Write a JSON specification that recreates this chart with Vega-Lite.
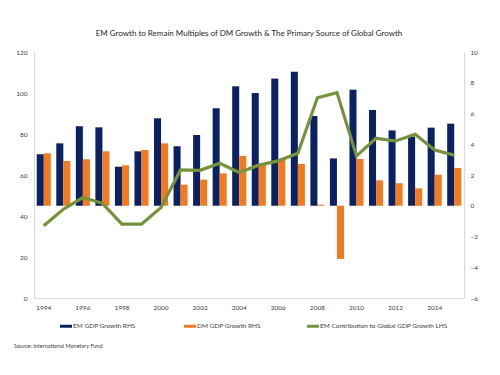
{
  "$schema": "https://vega.github.io/schema/vega-lite/v6.json",
  "width": 430,
  "height": 246,
  "autosize": {"type": "none"},
  "padding": {"left": 34, "top": 52, "right": 36, "bottom": 77},
  "background": "white",
  "title": {
    "text": "EM Growth to Remain Multiples of DM Growth & The Primary Source of Global Growth",
    "font": "Lato",
    "fontSize": 8,
    "fontWeight": "normal",
    "color": "#262626",
    "anchor": "middle",
    "frame": "group",
    "offset": 11
  },
  "datasets": {
    "bars": [
      {"year": "1994", "series": "EM GDP Growth  RHS", "value": 3.35},
      {"year": "1995", "series": "EM GDP Growth  RHS", "value": 4.06},
      {"year": "1996", "series": "EM GDP Growth  RHS", "value": 5.17},
      {"year": "1997", "series": "EM GDP Growth  RHS", "value": 5.1},
      {"year": "1998", "series": "EM GDP Growth  RHS", "value": 2.54},
      {"year": "1999", "series": "EM GDP Growth  RHS", "value": 3.54},
      {"year": "2000", "series": "EM GDP Growth  RHS", "value": 5.69},
      {"year": "2001", "series": "EM GDP Growth  RHS", "value": 3.87},
      {"year": "2002", "series": "EM GDP Growth  RHS", "value": 4.6},
      {"year": "2003", "series": "EM GDP Growth  RHS", "value": 6.34},
      {"year": "2004", "series": "EM GDP Growth  RHS", "value": 7.77},
      {"year": "2005", "series": "EM GDP Growth  RHS", "value": 7.33},
      {"year": "2006", "series": "EM GDP Growth  RHS", "value": 8.27},
      {"year": "2007", "series": "EM GDP Growth  RHS", "value": 8.72},
      {"year": "2008", "series": "EM GDP Growth  RHS", "value": 5.84},
      {"year": "2009", "series": "EM GDP Growth  RHS", "value": 3.08},
      {"year": "2010", "series": "EM GDP Growth  RHS", "value": 7.55},
      {"year": "2011", "series": "EM GDP Growth  RHS", "value": 6.23},
      {"year": "2012", "series": "EM GDP Growth  RHS", "value": 4.9},
      {"year": "2013", "series": "EM GDP Growth  RHS", "value": 4.5},
      {"year": "2014", "series": "EM GDP Growth  RHS", "value": 5.08},
      {"year": "2015", "series": "EM GDP Growth  RHS", "value": 5.34},
      {"year": "1994", "series": "DM GDP Growth RHS", "value": 3.41},
      {"year": "1995", "series": "DM GDP Growth RHS", "value": 2.91},
      {"year": "1996", "series": "DM GDP Growth RHS", "value": 3.02},
      {"year": "1997", "series": "DM GDP Growth RHS", "value": 3.54},
      {"year": "1998", "series": "DM GDP Growth RHS", "value": 2.63},
      {"year": "1999", "series": "DM GDP Growth RHS", "value": 3.63},
      {"year": "2000", "series": "DM GDP Growth RHS", "value": 4.06},
      {"year": "2001", "series": "DM GDP Growth RHS", "value": 1.37},
      {"year": "2002", "series": "DM GDP Growth RHS", "value": 1.7},
      {"year": "2003", "series": "DM GDP Growth RHS", "value": 2.11},
      {"year": "2004", "series": "DM GDP Growth RHS", "value": 3.24},
      {"year": "2005", "series": "DM GDP Growth RHS", "value": 2.65},
      {"year": "2006", "series": "DM GDP Growth RHS", "value": 3.04},
      {"year": "2007", "series": "DM GDP Growth RHS", "value": 2.72},
      {"year": "2008", "series": "DM GDP Growth RHS", "value": 0.07},
      {"year": "2009", "series": "DM GDP Growth RHS", "value": -3.46},
      {"year": "2010", "series": "DM GDP Growth RHS", "value": 3.04},
      {"year": "2011", "series": "DM GDP Growth RHS", "value": 1.65},
      {"year": "2012", "series": "DM GDP Growth RHS", "value": 1.46},
      {"year": "2013", "series": "DM GDP Growth RHS", "value": 1.13},
      {"year": "2014", "series": "DM GDP Growth RHS", "value": 2.02},
      {"year": "2015", "series": "DM GDP Growth RHS", "value": 2.46}
    ],
    "line": [
      {"year": "1994", "series": "EM Contribution to Global GDP Growth LHS", "contrib": 35.2},
      {"year": "1995", "series": "EM Contribution to Global GDP Growth LHS", "contrib": 43.3},
      {"year": "1996", "series": "EM Contribution to Global GDP Growth LHS", "contrib": 49.0},
      {"year": "1997", "series": "EM Contribution to Global GDP Growth LHS", "contrib": 46.2},
      {"year": "1998", "series": "EM Contribution to Global GDP Growth LHS", "contrib": 36.0},
      {"year": "1999", "series": "EM Contribution to Global GDP Growth LHS", "contrib": 36.0},
      {"year": "2000", "series": "EM Contribution to Global GDP Growth LHS", "contrib": 44.2},
      {"year": "2001", "series": "EM Contribution to Global GDP Growth LHS", "contrib": 62.5},
      {"year": "2002", "series": "EM Contribution to Global GDP Growth LHS", "contrib": 62.3},
      {"year": "2003", "series": "EM Contribution to Global GDP Growth LHS", "contrib": 65.7},
      {"year": "2004", "series": "EM Contribution to Global GDP Growth LHS", "contrib": 61.2},
      {"year": "2005", "series": "EM Contribution to Global GDP Growth LHS", "contrib": 64.8},
      {"year": "2006", "series": "EM Contribution to Global GDP Growth LHS", "contrib": 66.9},
      {"year": "2007", "series": "EM Contribution to Global GDP Growth LHS", "contrib": 70.6},
      {"year": "2008", "series": "EM Contribution to Global GDP Growth LHS", "contrib": 97.7},
      {"year": "2009", "series": "EM Contribution to Global GDP Growth LHS", "contrib": 100.2},
      {"year": "2010", "series": "EM Contribution to Global GDP Growth LHS", "contrib": 69.3},
      {"year": "2011", "series": "EM Contribution to Global GDP Growth LHS", "contrib": 77.9},
      {"year": "2012", "series": "EM Contribution to Global GDP Growth LHS", "contrib": 76.6},
      {"year": "2013", "series": "EM Contribution to Global GDP Growth LHS", "contrib": 79.9},
      {"year": "2014", "series": "EM Contribution to Global GDP Growth LHS", "contrib": 72.2},
      {"year": "2015", "series": "EM Contribution to Global GDP Growth LHS", "contrib": 69.7}
    ]
  },
  "encoding": {
    "x": {
      "field": "year",
      "type": "nominal",
      "scale": {"paddingInner": 0.28, "paddingOuter": 0.14},
      "axis": {
        "title": null,
        "values": ["1994", "1996", "1998", "2000", "2002", "2004", "2006", "2008", "2010", "2012", "2014"],
        "labelAngle": 0,
        "ticks": false,
        "labelPadding": 6,
        "labelFont": "Lato",
        "labelFontSize": 6.5,
        "labelColor": "#404040",
        "domainColor": "#d9d9d9",
        "domainWidth": 1.2
      }
    }
  },
  "layer": [
    {
      "data": {"name": "bars"},
      "mark": {"type": "bar"},
      "encoding": {
        "xOffset": {
          "field": "series",
          "type": "nominal",
          "scale": {"domain": ["EM GDP Growth  RHS", "DM GDP Growth RHS"], "paddingInner": 0, "paddingOuter": 0}
        },
        "y": {
          "field": "value",
          "type": "quantitative",
          "scale": {"domain": [-6, 10], "nice": false, "zero": false},
          "axis": {
            "orient": "right",
            "title": null,
            "values": [-6, -4, -2, 0, 2, 4, 6, 8, 10],
            "grid": false,
            "ticks": false,
            "labelPadding": 6,
            "labelFont": "Lato",
            "labelFontSize": 6.5,
            "labelColor": "#404040",
            "domainColor": "#d9d9d9",
            "domainWidth": 1.2
          }
        },
        "color": {
          "field": "series",
          "type": "nominal",
          "scale": {
            "domain": ["EM GDP Growth  RHS", "DM GDP Growth RHS", "EM Contribution to Global GDP Growth LHS"],
            "range": ["#0b2262", "#f47a1f", "#76933c"]
          },
          "legend": {
            "title": "Source: International Monetary Fund",
            "titleOrient": "bottom",
            "titleAnchor": "start",
            "titleFont": "Lato",
            "titleFontSize": 5.5,
            "titleFontWeight": "normal",
            "titleColor": "#404040",
            "titlePadding": 14,
            "orient": "none",
            "legendX": -20,
            "legendY": 268,
            "direction": "horizontal",
            "columns": 3,
            "columnPadding": -8,
            "symbolType": "M-1,-0.25H1V0.25H-1Z",
            "symbolSize": 144,
            "symbolStrokeWidth": 0,
            "symbolOffset": 46,
            "labelFont": "Lato",
            "labelFontSize": 6.5,
            "labelColor": "#404040",
            "labelOffset": 1
          }
        }
      }
    },
    {
      "data": {"name": "line"},
      "mark": {"type": "line", "strokeWidth": 3.2},
      "encoding": {
        "y": {
          "field": "contrib",
          "type": "quantitative",
          "scale": {"domain": [0, 120], "nice": false},
          "axis": {
            "orient": "left",
            "title": null,
            "values": [0, 20, 40, 60, 80, 100, 120],
            "grid": false,
            "ticks": false,
            "labelPadding": 7,
            "labelFont": "Lato",
            "labelFontSize": 6.5,
            "labelColor": "#404040",
            "domainColor": "#d9d9d9",
            "domainWidth": 1.2
          }
        },
        "color": {"field": "series", "type": "nominal"}
      }
    }
  ],
  "resolve": {"scale": {"y": "independent"}},
  "config": {"view": {"stroke": null}}
}
